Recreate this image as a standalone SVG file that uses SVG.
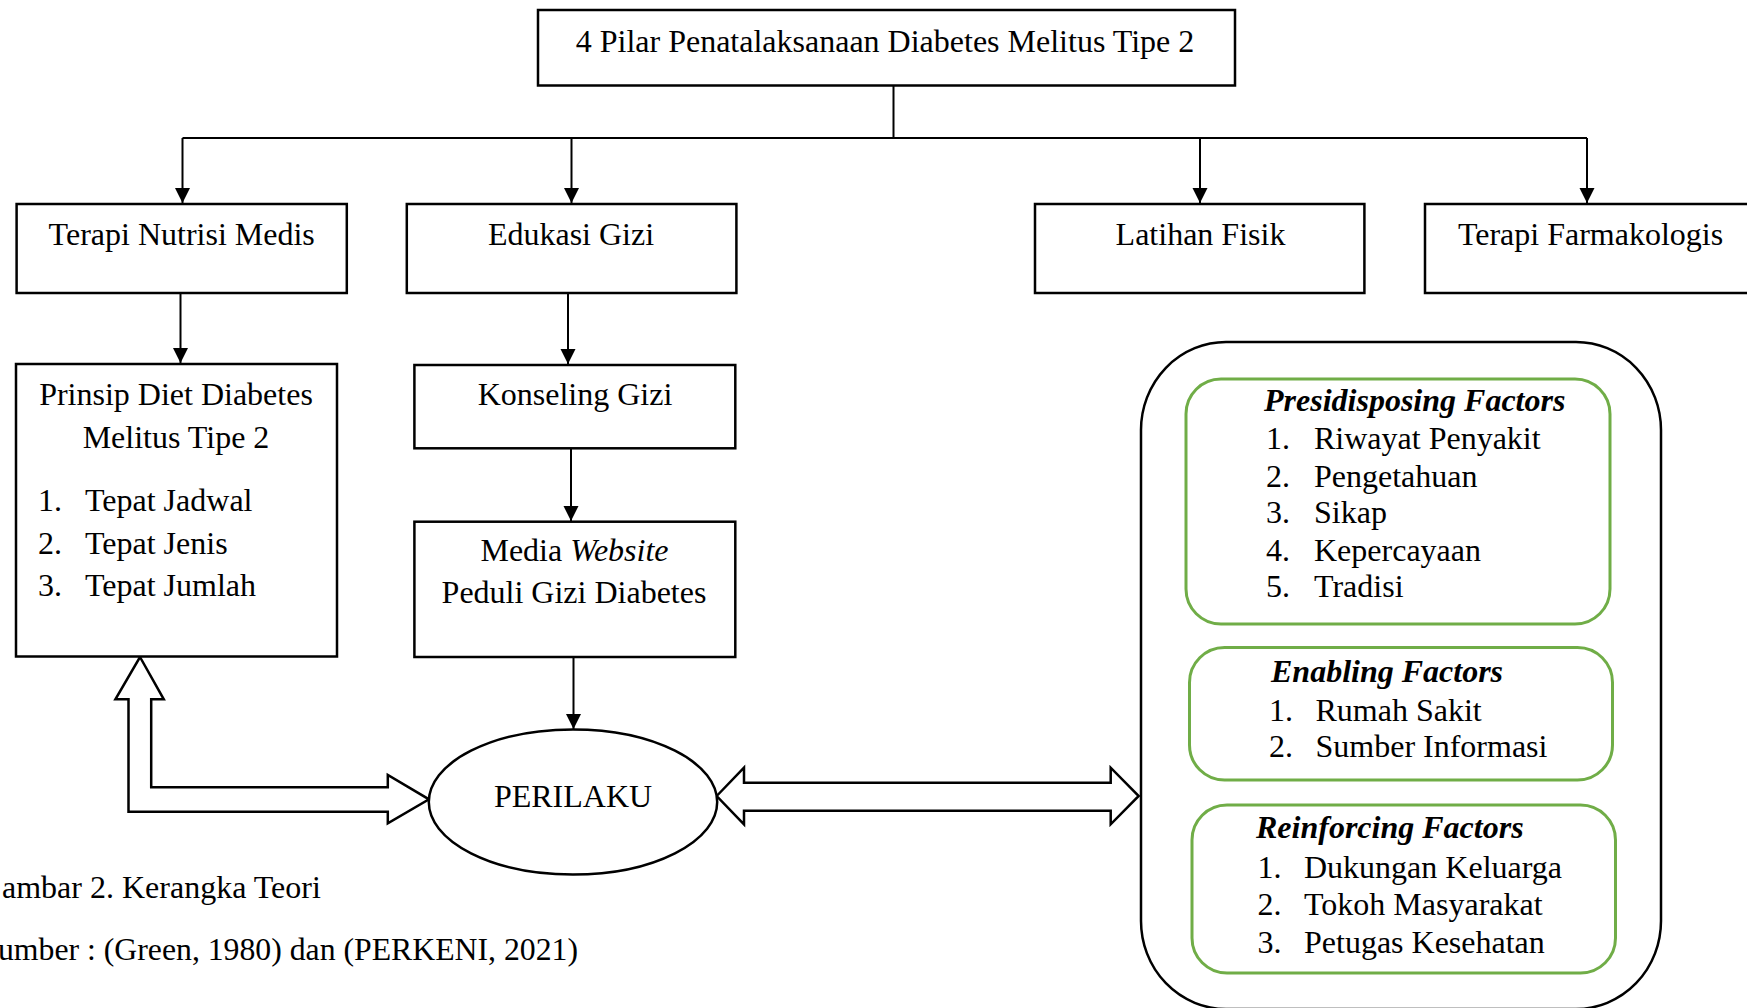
<svg xmlns="http://www.w3.org/2000/svg" width="1747" height="1008" viewBox="0 0 1747 1008">
  <style>
    .box { fill: #fff; stroke: #000; stroke-width: 2.5; }
    .gbox { fill: #fff; stroke: #70AD47; stroke-width: 3; }
    .line { fill: none; stroke: #000; stroke-width: 2; }
    .blk { fill: #fff; stroke: #000; stroke-width: 2.5; stroke-linejoin: miter; }
    text { font-family: "Liberation Serif", "Times New Roman", serif; font-size: 32px; fill: #000; }
    .c { text-anchor: middle; }
    .h { font-weight: bold; font-style: italic; }
  </style>
  <defs>
    <marker id="arr" markerUnits="userSpaceOnUse" markerWidth="16" markerHeight="16" refX="15" refY="7.5" orient="auto">
      <path d="M0,0 L15,7.5 L0,15 z" fill="#000"/>
    </marker>
  </defs>
  <rect width="1747" height="1008" fill="#fff"/>

  <g id="connectors">
    <line class="line" x1="893.5" y1="85" x2="893.5" y2="138"/>
    <line class="line" x1="182.5" y1="138" x2="1587" y2="138"/>
    <line class="line" x1="182.5" y1="138" x2="182.5" y2="203" marker-end="url(#arr)"/>
    <line class="line" x1="571.5" y1="138" x2="571.5" y2="203" marker-end="url(#arr)"/>
    <line class="line" x1="1200" y1="138" x2="1200" y2="203" marker-end="url(#arr)"/>
    <line class="line" x1="1587" y1="138" x2="1587" y2="203" marker-end="url(#arr)"/>
    <line class="line" x1="180.5" y1="293" x2="180.5" y2="363" marker-end="url(#arr)"/>
    <line class="line" x1="568" y1="293" x2="568" y2="364" marker-end="url(#arr)"/>
    <line class="line" x1="571" y1="448" x2="571" y2="521" marker-end="url(#arr)"/>
    <line class="line" x1="573.5" y1="657" x2="573.5" y2="729" marker-end="url(#arr)"/>
    <polygon class="blk" points="140,657 163.8,699.3 151.2,699.3 151.2,787.3 387.8,787.3 387.8,775 429,799.3 387.8,823.3 387.8,811.7 128.5,811.7 128.5,699.3 115.4,699.3"/>
    <polygon class="blk" points="716.7,796 744,767.7 744,782.7 1110.7,782.7 1110.7,767.7 1138.7,796 1110.7,824.3 1110.7,810.7 744,810.7 744,824.3"/>
  </g>

  <g id="node-top">
    <rect class="box" x="538" y="10" width="697" height="75.5"/>
    <text class="c" x="885" y="52">4 Pilar Penatalaksanaan Diabetes Melitus Tipe 2</text>
  </g>
  <g id="node-tnm">
    <rect class="box" x="16.6" y="204" width="330.2" height="89"/>
    <text class="c" x="181.7" y="245">Terapi Nutrisi Medis</text>
  </g>
  <g id="node-edukasi">
    <rect class="box" x="406.8" y="204" width="329.6" height="89"/>
    <text class="c" x="571" y="245">Edukasi Gizi</text>
  </g>
  <g id="node-latihan">
    <rect class="box" x="1035" y="204" width="329.4" height="89"/>
    <text class="c" x="1200.5" y="245">Latihan Fisik</text>
  </g>
  <g id="node-farmakologis">
    <rect class="box" x="1425" y="204" width="340" height="89"/>
    <text class="c" x="1590.5" y="245">Terapi Farmakologis</text>
  </g>
  <g id="node-prinsip">
    <rect class="box" x="16" y="364" width="321" height="292.5"/>
    <text class="c" x="176" y="405">Prinsip Diet Diabetes</text>
    <text class="c" x="176" y="448">Melitus Tipe 2</text>
    <text x="38" y="511">1.</text><text x="85" y="511">Tepat Jadwal</text>
    <text x="38" y="554">2.</text><text x="85" y="554">Tepat Jenis</text>
    <text x="38" y="596">3.</text><text x="85" y="596">Tepat Jumlah</text>
  </g>
  <g id="node-konseling">
    <rect class="box" x="414.4" y="365" width="320.9" height="83.3"/>
    <text class="c" x="575" y="405">Konseling Gizi</text>
  </g>
  <g id="node-media">
    <rect class="box" x="414.4" y="521.7" width="320.9" height="135.3"/>
    <text class="c" x="574.5" y="561">Media <tspan font-style="italic">Website</tspan></text>
    <text class="c" x="574" y="603">Peduli Gizi Diabetes</text>
  </g>
  <g id="node-perilaku">
    <ellipse class="box" cx="573" cy="802" rx="144.2" ry="72.5"/>
    <text class="c" x="573" y="807">PERILAKU</text>
  </g>
  <g id="node-factors">
    <rect class="box" x="1141" y="342" width="520" height="667" rx="85" ry="88"/>
  </g>
  <g id="node-presidisposing">
    <rect class="gbox" x="1186" y="379" width="424" height="245" rx="35" ry="35"/>
    <text class="h" x="1264" y="411">Presidisposing Factors</text>
    <text x="1266" y="449">1.</text><text x="1314" y="449">Riwayat Penyakit</text>
    <text x="1266" y="487">2.</text><text x="1314" y="487">Pengetahuan</text>
    <text x="1266" y="523">3.</text><text x="1314" y="523">Sikap</text>
    <text x="1266" y="561">4.</text><text x="1314" y="561">Kepercayaan</text>
    <text x="1266" y="597">5.</text><text x="1314" y="597">Tradisi</text>
  </g>
  <g id="node-enabling">
    <rect class="gbox" x="1189.5" y="647.5" width="423" height="132.5" rx="35" ry="35"/>
    <text class="h" x="1271" y="682">Enabling Factors</text>
    <text x="1269" y="721">1.</text><text x="1315.5" y="721">Rumah Sakit</text>
    <text x="1269" y="757">2.</text><text x="1315.5" y="757">Sumber Informasi</text>
  </g>
  <g id="node-reinforcing">
    <rect class="gbox" x="1192" y="805" width="423.5" height="168" rx="35" ry="35"/>
    <text class="h" x="1256" y="838">Reinforcing Factors</text>
    <text x="1257.5" y="878">1.</text><text x="1304" y="878">Dukungan Keluarga</text>
    <text x="1257.5" y="915">2.</text><text x="1304" y="915">Tokoh Masyarakat</text>
    <text x="1257.5" y="953">3.</text><text x="1304" y="953">Petugas Kesehatan</text>
  </g>

  <text x="2" y="898">ambar 2. Kerangka Teori</text>
  <text x="-2" y="960" textLength="580" lengthAdjust="spacingAndGlyphs">umber : (Green, 1980) dan (PERKENI, 2021)</text>
</svg>
